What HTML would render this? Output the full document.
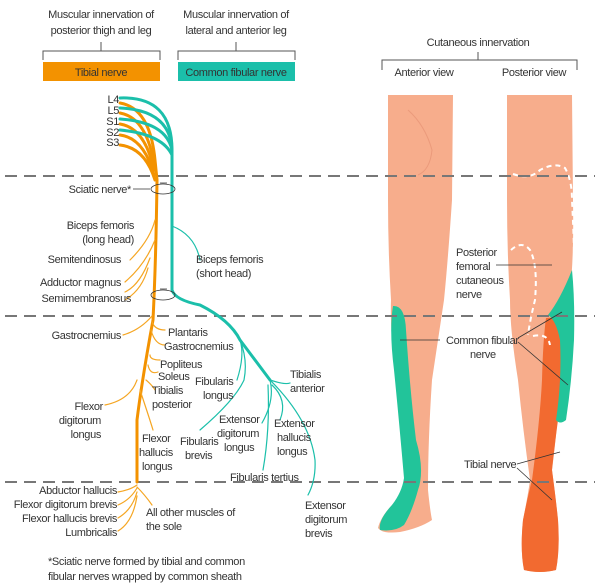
<!DOCTYPE html>
<html><head><meta charset="utf-8"><style>
html,body{margin:0;padding:0;background:#fff;}
svg{display:block;font-family:"Liberation Sans Narrow","Liberation Sans",sans-serif;}
text{fill:#333;font-size:11px;letter-spacing:-0.35px;}
</style></head><body>
<svg width="600" height="587" viewBox="0 0 600 587" xmlns="http://www.w3.org/2000/svg">
<!-- headers -->
<text x="101" y="18" text-anchor="middle">Muscular innervation of</text>
<text x="101" y="34" text-anchor="middle">posterior thigh and leg</text>
<text x="236" y="18" text-anchor="middle">Muscular innervation of</text>
<text x="236" y="34" text-anchor="middle">lateral and anterior leg</text>
<g stroke="#555" fill="none" stroke-width="1">
<path d="M43 60V51H160V60M101 51V42"/>
<path d="M178 60V51H295V60M236 51V42"/>
<path d="M382 70V60H577V70M478 60V52"/>
</g>
<rect x="43" y="62" width="117" height="19" fill="#f39200"/>
<text x="101" y="76" text-anchor="middle">Tibial nerve</text>
<rect x="178" y="62" width="117" height="19" fill="#1bbfaa"/>
<text x="236" y="76" text-anchor="middle">Common fibular nerve</text>
<text x="478" y="46" text-anchor="middle">Cutaneous innervation</text>
<text x="424" y="76" text-anchor="middle">Anterior view</text>
<text x="534" y="76" text-anchor="middle">Posterior view</text>

<!-- legs anterior -->
<path d="M388 95H453L452 200Q448 260 444 300Q438 340 432 380Q428 440 428 490Q430 510 432 520Q420 528 400 532Q382 534 378 528Q380 518 392 505Q404 492 406 480Q400 420 395 370Q390 330 391 300Q388 250 388 200Z" fill="#f7ad8c"/>
<path d="M393 306Q405 305 406 330Q410 390 416 440Q425 470 418 490Q412 512 404 525Q395 532 380 530Q378 520 392 505Q402 492 404 478Q399 420 394 370Q389 330 393 306Z" fill="#22c49a"/>
<path d="M408 110Q425 125 432 150Q430 170 418 175" stroke="#eb9a7b" fill="none"/>
<!-- legs posterior -->
<path d="M507 95H572L573 200Q574 260 570 290Q566 340 560 390Q556 440 552 470Q556 500 558 520Q560 550 556 570Q540 574 524 570Q520 550 523 520Q528 495 530 480Q523 430 518 380Q510 330 510 300Q507 250 507 200Z" fill="#f7ad8c"/>
<path d="M546 318Q560 316 567 330Q566 380 558 420Q554 450 552 470Q556 500 558 520Q560 550 556 570Q540 574 524 570Q520 550 523 520Q528 495 532 480Q540 420 542 380Q543 340 546 318Z" fill="#f26a30"/>
<path d="M572 270Q575 300 574 340Q572 380 566 420Q560 425 556 420Q562 380 560 340Q556 320 548 315Q560 300 572 270Z" fill="#22c49a"/>
<g stroke="#fff" stroke-width="2" stroke-dasharray="5 4" fill="none">
<path d="M513 174Q530 180 540 170Q555 162 565 168Q572 180 572 200Q574 240 574 258"/>
<path d="M511 250Q522 240 530 250Q538 265 535 300Q530 320 528 335"/>
<path d="M533 336Q548 333 550 345"/>
</g>
<!-- dashed lines -->
<g stroke="#777" stroke-width="2" stroke-dasharray="12 7">
<line x1="5" y1="176" x2="595" y2="176"/>
<line x1="5" y1="316" x2="595" y2="316"/>
<line x1="5" y1="482" x2="595" y2="482"/>
</g>
<!-- cutaneous labels -->
<text x="456" y="256">Posterior</text>
<text x="456" y="270">femoral</text>
<text x="456" y="284">cutaneous</text>
<text x="456" y="298">nerve</text>
<line x1="496" y1="265" x2="552" y2="265" stroke="#333" stroke-width=".8"/>
<text x="446" y="344">Common fibular</text>
<text x="470" y="358">nerve</text>
<g stroke="#333" stroke-width=".8" fill="none">
<path d="M440 340H400M518 338L562 312M518 342L568 385"/>
<path d="M517 464L560 452M517 468L552 500"/>
</g>
<text x="464" y="468">Tibial nerve</text>

<!-- nerve trunks -->
<g fill="none" stroke-linecap="round">
<g stroke="#f39200" stroke-width="3">
<path d="M120 103Q150 108 155 160L157 180Q156 260 153 320Q142 380 137 420L137 482"/>
<path d="M120 113Q148 118 155 170"/><path d="M120 124Q145 128 154 170"/>
<path d="M120 135Q144 138 154 175"/><path d="M120 145Q145 148 155 180"/>
</g>
<g stroke="#1bbfaa" stroke-width="3">
<path d="M120 98Q172 96 172 150L172 290Q175 300 200 305Q230 320 240 340Q255 360 270 380"/>
<path d="M120 108Q170 110 172 150"/><path d="M120 119Q166 122 172 150"/>
<path d="M120 130Q162 134 172 155"/>
</g>
<g stroke="#f5a623" stroke-width="1.2">
<path d="M155 220Q150 240 130 260"/><path d="M155 240Q145 265 125 282"/>
<path d="M150 258Q140 285 125 292"/><path d="M148 268Q142 290 125 300"/>
<path d="M152 316Q140 330 123 335"/><path d="M152 322Q155 330 165 330"/>
<path d="M151 330Q155 345 165 345"/><path d="M150 355Q150 360 160 360"/>
<path d="M148 365Q150 375 158 372"/><path d="M146 380Q152 385 155 390"/>
<path d="M137 380Q130 400 105 405"/><path d="M140 390Q150 420 153 430"/>
<path d="M137 485Q130 490 118 492"/><path d="M137 488Q130 500 118 505"/>
<path d="M137 492Q132 510 118 518"/><path d="M137 496Q133 522 118 531"/>
<path d="M137 487Q145 495 152 505"/>
</g>
<g stroke="#1bbfaa" stroke-width="1.2">
<path d="M172 226Q195 235 200 260"/>
<path d="M240 340Q248 360 244 380Q235 400 200 430"/>
<path d="M240 340Q245 355 237 380"/>
<path d="M270 380Q285 385 290 383"/>
<path d="M270 380Q275 400 262 423"/>
<path d="M272 385Q288 400 280 420"/>
<path d="M268 385Q270 430 263 470"/>
<path d="M270 380Q310 420 315 460Q316 480 308 495"/>
</g>
</g>
<g stroke="#333" stroke-width=".8" fill="none">
<ellipse cx="163" cy="189" rx="12" ry="5"/>
<ellipse cx="163" cy="295" rx="12" ry="5"/>
<path d="M133 189H150M160 183H167M160 289H167"/>
</g>
<!-- nerve labels -->
<g text-anchor="end">
<text x="119" y="103">L4</text><text x="119" y="114">L5</text>
<text x="119" y="125">S1</text><text x="119" y="136">S2</text><text x="119" y="146">S3</text>
<text x="131" y="193">Sciatic nerve*</text>
<text x="134" y="229">Biceps femoris</text>
<text x="134" y="243">(long head)</text>
<text x="121" y="263">Semitendinosus</text>
<text x="121" y="286">Adductor magnus</text>
<text x="131" y="302">Semimembranosus</text>
<text x="121" y="339">Gastrocnemius</text>
<text x="103" y="410">Flexor</text>
<text x="101" y="424">digitorum</text>
<text x="101" y="438">longus</text>
<text x="117" y="494">Abductor hallucis</text>
<text x="117" y="508">Flexor digitorum brevis</text>
<text x="117" y="522">Flexor hallucis brevis</text>
<text x="117" y="536">Lumbricalis</text>
</g>
<text x="196" y="263">Biceps femoris</text>
<text x="196" y="277">(short head)</text>
<text x="168" y="336">Plantaris</text>
<text x="164" y="350">Gastrocnemius</text>
<text x="160" y="368">Popliteus</text>
<text x="158" y="380">Soleus</text>
<text x="152" y="394">Tibialis</text>
<text x="152" y="408">posterior</text>
<text x="195" y="385">Fibularis</text>
<text x="203" y="399">longus</text>
<text x="290" y="378">Tibialis</text>
<text x="290" y="392">anterior</text>
<text x="219" y="423">Extensor</text>
<text x="217" y="437">digitorum</text>
<text x="224" y="451">longus</text>
<text x="274" y="427">Extensor</text>
<text x="277" y="441">hallucis</text>
<text x="277" y="455">longus</text>
<text x="142" y="442">Flexor</text>
<text x="139" y="456">hallucis</text>
<text x="142" y="470">longus</text>
<text x="180" y="445">Fibularis</text>
<text x="185" y="459">brevis</text>
<text x="230" y="481">Fibularis tertius</text>
<text x="146" y="516">All other muscles of</text>
<text x="146" y="530">the sole</text>
<text x="305" y="509">Extensor</text>
<text x="305" y="523">digitorum</text>
<text x="305" y="537">brevis</text>
<text x="48" y="565">*Sciatic nerve formed by tibial and common</text>
<text x="48" y="580">fibular nerves wrapped by common sheath</text>
</svg>
</body></html>
